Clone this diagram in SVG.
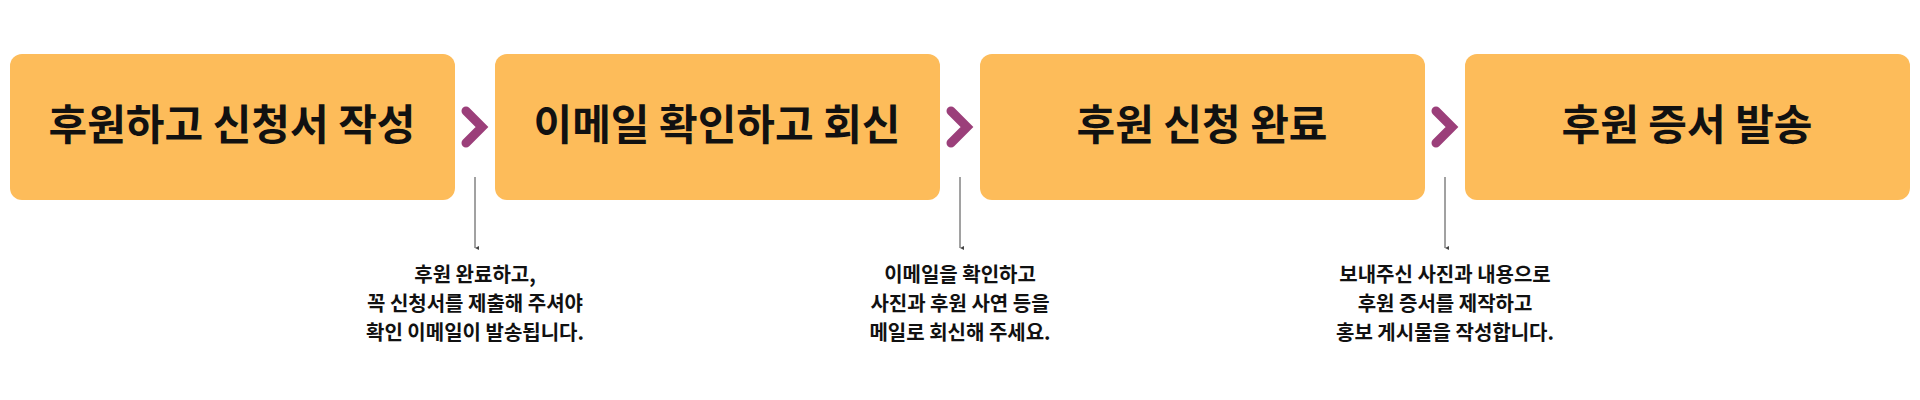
<svg xmlns="http://www.w3.org/2000/svg" width="1920" height="400" viewBox="0 0 1920 400">
<style>
.box{fill:#FDBC5A}
.t{font-family:"Noto Sans CJK KR","Noto Sans",sans-serif;font-weight:700;font-size:42px;fill:#111;text-anchor:middle}
.s{font-family:"Noto Sans CJK KR","Noto Sans",sans-serif;font-weight:700;font-size:20px;fill:#111;text-anchor:middle}
.chev{fill:none;stroke:#9B3F7A;stroke-width:9;stroke-linecap:round;stroke-linejoin:miter}
.ln{stroke:#444;stroke-width:1;fill:none}
</style>
<defs><marker id="ah" viewBox="0 0 6 6" refX="3" refY="6" markerWidth="4" markerHeight="4" orient="auto-start-reverse"><path d="M0,0 L6,0 L3,6 z" transform="rotate(0)" fill="#444"/></marker></defs>
<rect width="1920" height="400" fill="#fff"/>
<g id="n1"><rect class="box" x="10" y="54" width="445" height="146" rx="12"/><text class="t" x="232" y="140">후원하고 신청서 작성</text></g>
<g id="n2"><rect class="box" x="495" y="54" width="445" height="146" rx="12"/><text class="t" x="717" y="140">이메일 확인하고 회신</text></g>
<g id="n3"><rect class="box" x="980" y="54" width="445" height="146" rx="12"/><text class="t" x="1202" y="140">후원 신청 완료</text></g>
<g id="n4"><rect class="box" x="1465" y="54" width="445" height="146" rx="12"/><text class="t" x="1687" y="140">후원 증서 발송</text></g>
<g id="connectors">
<path class="chev" d="M466,111 L482,127 L466,143"/>
<path class="chev" d="M951,111 L967,127 L951,143"/>
<path class="chev" d="M1436,111 L1452,127 L1436,143"/>
<line class="ln" x1="475" y1="177" x2="475" y2="248" marker-end="url(#ah)"/>
<line class="ln" x1="960" y1="177" x2="960" y2="248" marker-end="url(#ah)"/>
<line class="ln" x1="1445" y1="177" x2="1445" y2="248" marker-end="url(#ah)"/>
</g>
<g id="notes">
<text class="s" x="475" y="282">후원 완료하고,</text>
<text class="s" x="475" y="311">꼭 신청서를 제출해 주셔야</text>
<text class="s" x="475" y="340">확인 이메일이 발송됩니다.</text>
<text class="s" x="960" y="282">이메일을 확인하고</text>
<text class="s" x="960" y="311">사진과 후원 사연 등을</text>
<text class="s" x="960" y="340">메일로 회신해 주세요.</text>
<text class="s" x="1445" y="282">보내주신 사진과 내용으로</text>
<text class="s" x="1445" y="311">후원 증서를 제작하고</text>
<text class="s" x="1445" y="340">홍보 게시물을 작성합니다.</text>
</g>
</svg>
